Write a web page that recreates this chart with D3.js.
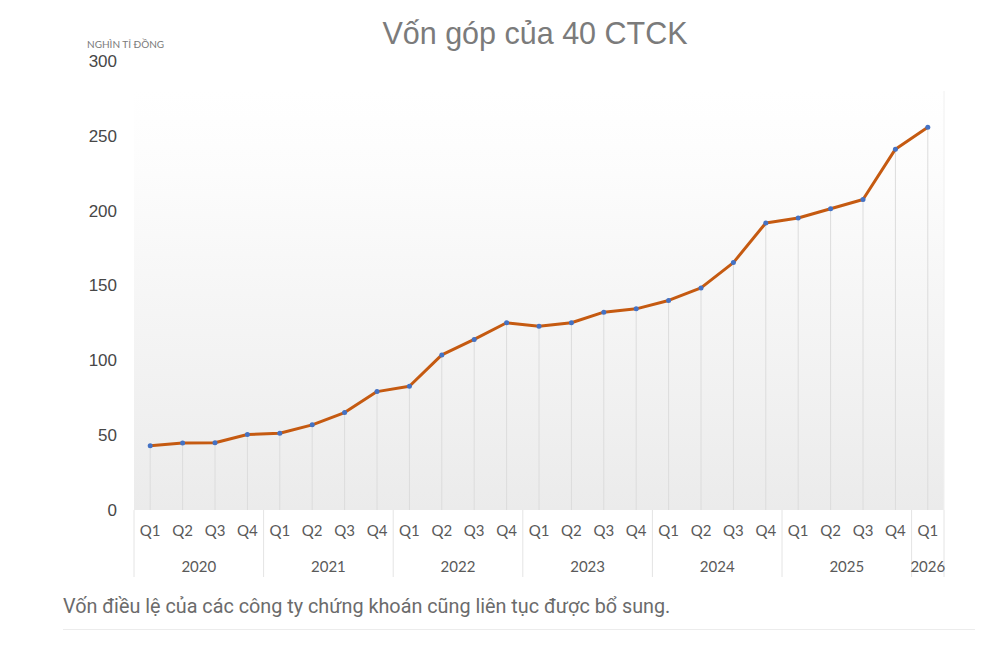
<!DOCTYPE html>
<html>
<head>
<meta charset="utf-8">
<script src="https://cdn.jsdelivr.net/npm/d3@7"></script>
<style>
  body { margin: 0; background: #fff; }
  svg { display: block; }
</style>
</head>
<body>
<script>
  // quarters and years shown on the two-level x axis
  var quarters = ["Q1", "Q2", "Q3", "Q4"];
  var years = ["2020", "2021", "2022", "2023", "2024", "2025", "2026"];
  var quartersPerYear = [4, 4, 4, 4, 4, 4, 1];

  // vốn góp, nghìn tỉ đồng
  var values = [43, 44.7, 44.9, 50.4, 51.3, 56.9, 65.1, 79.1,
    82.7, 103.6, 114, 125.1, 122.7, 125.1, 132.2, 134.4,
    140, 148.4, 165.3, 191.8, 195.1, 201.3, 207.5, 241.1,
    255.8];

  var yTicks = [0, 50, 100, 150, 200, 250, 300];

  var width = 996,
    height = 647;

  // plot box (note: "top" is a reserved window global, so plotTop)
  var plotLeft = 134, plotRight = 944, plotTop = 61, plotBottom = 510;

  // one entry per quarter: key is "Q1 2020" etc.
  var periods = [];
  years.forEach(function(yr, i) {
    for (var q = 0; q < quartersPerYear[i]; q++) {
      periods.push({ key: quarters[q] + " " + yr, q: quarters[q], year: yr });
    }
  });
  periods.forEach(function(p, i) { p.value = values[i]; });

  var svg = d3.select("body").append("svg")
    .attr("width", width)
    .attr("height", height);

  var x = d3.scaleBand()
    .domain(periods.map(function(d) { return d.key; }))
    .range([plotLeft, plotRight]);

  var y = d3.scaleLinear()
    .domain([0, 300])
    .range([plotBottom, plotTop]);

  // soft grey gradient behind the plot
  var grad = svg.append("defs").append("linearGradient")
    .attr("id", "bg")
    .attr("x1", 0).attr("y1", 0).attr("x2", 0).attr("y2", 1);
  grad.append("stop").attr("offset", "0%").attr("stop-color", "#ffffff");
  grad.append("stop").attr("offset", "20%").attr("stop-color", "#fcfcfc");
  grad.append("stop").attr("offset", "100%").attr("stop-color", "#ebebeb");

  svg.append("rect")
    .attr("x", plotLeft)
    .attr("y", y(280))
    .attr("width", plotRight - plotLeft)
    .attr("height", plotBottom - y(280))
    .attr("fill", "url(#bg)");

  // title
  svg.append("text")
    .attr("x", 535)
    .attr("y", 44)
    .attr("text-anchor", "middle")
    .style("font-family", "'Liberation Sans', Arial, sans-serif")
    .style("font-size", "30.5px")
    .style("fill", "#7b7b7b")
    .text("Vốn góp của 40 CTCK");

  // unit label
  svg.append("text")
    .attr("x", 87)
    .attr("y", 48)
    .style("font-family", "Lato, sans-serif")
    .style("font-size", "10px")
    .style("fill", "#7a7a7a")
    .text("NGHÌN TỈ ĐỒNG");

  // y axis
  var yAxis = d3.axisLeft(y)
    .tickValues(yTicks)
    .tickSize(0)
    .tickPadding(17);

  var gy = svg.append("g")
    .attr("transform", "translate(" + plotLeft + ",0)")
    .call(yAxis);
  gy.select(".domain").remove();
  gy.selectAll("text")
    .style("font-family", "'Liberation Sans', Arial, sans-serif")
    .style("font-size", "17px")
    .style("fill", "#474747");

  // drop lines from each point to the base
  svg.append("g").selectAll("line")
    .data(periods)
    .enter().append("line")
    .attr("x1", function(d) { return x(d.key) + x.bandwidth() / 2; })
    .attr("x2", function(d) { return x(d.key) + x.bandwidth() / 2; })
    .attr("y1", function(d) { return y(d.value); })
    .attr("y2", plotBottom)
    .attr("stroke", "#dcdcdc")
    .attr("stroke-width", 1);

  // right edge of the plot
  svg.append("line")
    .attr("x1", plotRight).attr("x2", plotRight)
    .attr("y1", y(280)).attr("y2", plotBottom)
    .attr("stroke", "#f0f0f0");

  // quarter labels
  var xAxis = d3.axisBottom(x)
    .tickSize(0)
    .tickPadding(15)
    .tickFormat(function(k) { return k.split(" ")[0]; });

  var gx = svg.append("g")
    .attr("transform", "translate(0," + plotBottom + ")")
    .call(xAxis);
  gx.select(".domain").remove();
  gx.selectAll("text")
    .style("font-family", "Lato, sans-serif")
    .style("font-size", "15px")
    .style("fill", "#5a5a5a");

  // year groups: boundaries and centered labels
  var groups = [];
  var idx = 0;
  years.forEach(function(yr, i) {
    var first = periods[idx].key;
    var last = periods[idx + quartersPerYear[i] - 1].key;
    groups.push({ year: yr, x0: x(first), x1: x(last) + x.bandwidth() });
    idx += quartersPerYear[i];
  });

  var bounds = groups.map(function(g) { return g.x0; }).concat([plotRight]);

  svg.append("g").selectAll("line")
    .data(bounds)
    .enter().append("line")
    .attr("x1", function(d) { return d; })
    .attr("x2", function(d) { return d; })
    .attr("y1", plotBottom)
    .attr("y2", 577)
    .attr("stroke", "#e4e4e4")
    .attr("stroke-width", 1);

  svg.append("g").selectAll("text")
    .data(groups)
    .enter().append("text")
    .attr("x", function(d) { return (d.x0 + d.x1) / 2; })
    .attr("y", 572)
    .attr("text-anchor", "middle")
    .style("font-family", "Lato, sans-serif")
    .style("font-size", "15px")
    .style("fill", "#5a5a5a")
    .text(function(d) { return d.year; });

  // the series line
  var line = d3.line()
    .x(function(d) { return x(d.key) + x.bandwidth() / 2; })
    .y(function(d) { return y(d.value); });

  svg.append("path")
    .datum(periods)
    .attr("d", line)
    .attr("fill", "none")
    .attr("stroke", "#c55a11")
    .attr("stroke-width", 3)
    .attr("stroke-linejoin", "round");

  svg.append("g").selectAll("circle")
    .data(periods)
    .enter().append("circle")
    .attr("cx", function(d) { return x(d.key) + x.bandwidth() / 2; })
    .attr("cy", function(d) { return y(d.value); })
    .attr("r", 2.5)
    .attr("fill", "#4472c4");

  // caption below the chart
  svg.append("text")
    .attr("x", 63)
    .attr("y", 613)
    .style("font-family", "Roboto, sans-serif")
    .style("font-size", "19.8px")
    .style("fill", "#6b6b6b")
    .text("Vốn điều lệ của các công ty chứng khoán cũng liên tục được bổ sung.");

  svg.append("line")
    .attr("x1", 63).attr("x2", 975)
    .attr("y1", 629.5).attr("y2", 629.5)
    .attr("stroke", "#ececec");
</script>
</body>
</html>
